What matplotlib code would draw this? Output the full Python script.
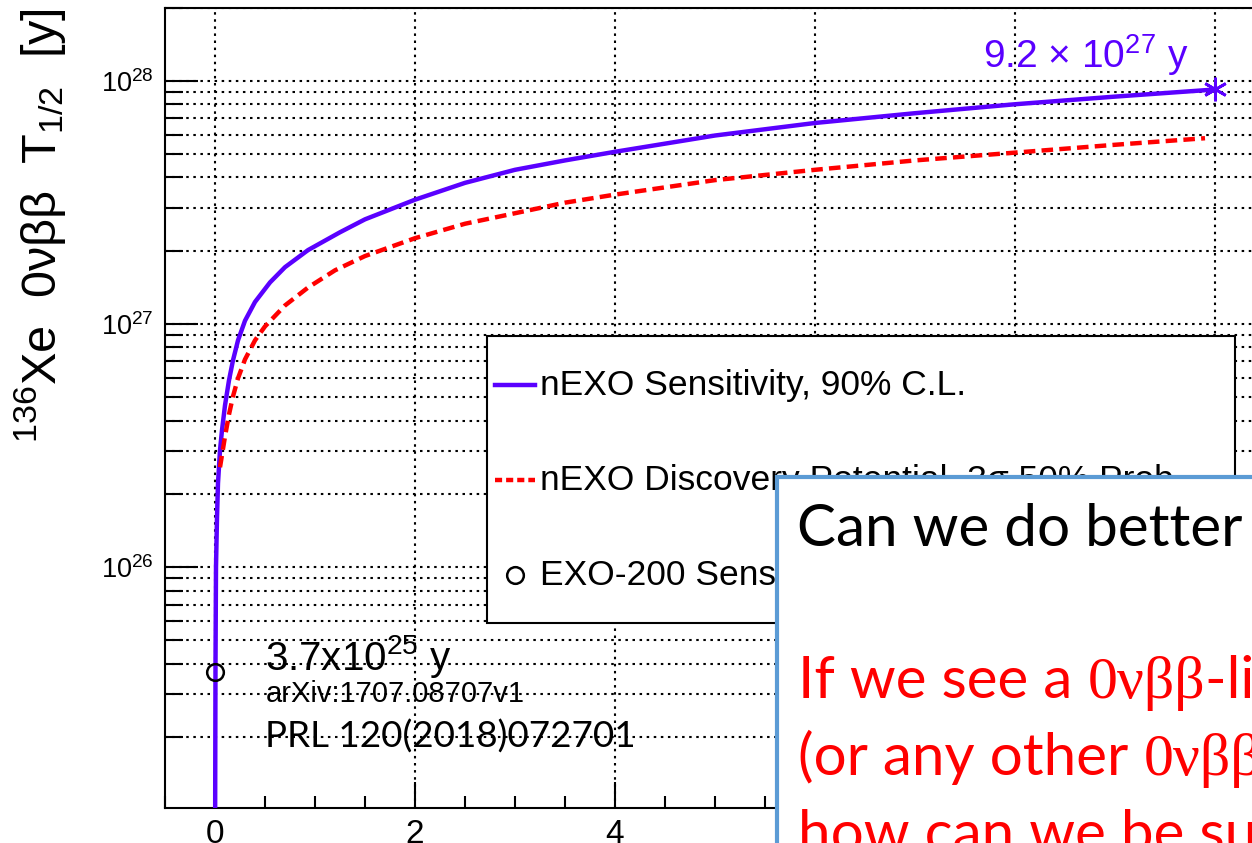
import matplotlib.pyplot as plt
from matplotlib.lines import Line2D
from matplotlib.patches import Rectangle
from matplotlib.ticker import MultipleLocator, LogLocator, NullFormatter

plt.rcParams['font.family'] = ['Liberation Sans', 'DejaVu Sans']
plt.rcParams['mathtext.fontset'] = 'custom'
plt.rcParams['mathtext.rm'] = 'Liberation Serif'
plt.rcParams['mathtext.default'] = 'regular'

# livetime [y] -> 136Xe 0vbb half-life [y]
sens_years = [0.0, 0.002, 0.005, 0.01, 0.02, 0.03, 0.05, 0.07, 0.10, 0.14, 0.18, 0.23,
              0.30, 0.40, 0.55, 0.70, 0.93, 1.25, 1.5, 2.0, 2.5, 3.0, 3.5, 4.0, 5.0,
              6.0, 7.0, 8.0, 9.0, 10.0]
sens_halflife = [5e24, 1.2e25, 4e25, 1.0e26, 1.6e26, 2.21e26, 3.02e26, 3.65e26, 4.62e26,
                 5.86e26, 7.08e26, 8.55e26, 1.03e27, 1.23e27, 1.48e27, 1.71e27, 2.01e27,
                 2.38e27, 2.69e27, 3.24e27, 3.8e27, 4.3e27, 4.7e27, 5.1e27, 5.95e27,
                 6.7e27, 7.35e27, 8.0e27, 8.6e27, 9.2e27]
disc_years = [0.05, 0.10, 0.14, 0.18, 0.23, 0.30, 0.40, 0.50, 0.70, 0.93, 1.2, 1.5, 2.0,
              2.5, 3.0, 3.5, 4.0, 5.0, 6.0, 7.0, 8.0, 9.0, 9.9]
disc_halflife = [2.57e26, 3.44e26, 4.24e26, 5.03e26, 5.97e26, 7.14e26, 8.55e26, 9.76e26,
                 1.19e27, 1.41e27, 1.66e27, 1.9e27, 2.25e27, 2.58e27, 2.85e27, 3.15e27,
                 3.4e27, 3.9e27, 4.3e27, 4.7e27, 5.06e27, 5.45e27, 5.8e27]
exo200_years = [0.0]
exo200_halflife = [3.7e25]
final_years = [10.0]
final_halflife = [9.2e27]

labels = ['nEXO Sensitivity, 90% C.L.',
          'nEXO Discovery Potential, 3σ 50% Prob.',
          'EXO-200 Sensitivity, 90% C.L.']

blue = '#5a00ff'
red = '#ff0000'

W, H = 1252, 843
fig = plt.figure(figsize=(W / 100, H / 100), dpi=100)
ax = fig.add_axes([165 / W, 35 / H, 1100 / W, 800.5 / H])


def px(x, y):
    return x / W, 1 - y / H


ax.plot(sens_years, sens_halflife, color=blue, lw=3.2, zorder=3)
ax.plot(disc_years, disc_halflife, color=red, lw=3.2, dashes=(2.6, 1.4), zorder=3)
ax.plot(exo200_years, exo200_halflife, 'o', ms=12, mfc='none', mec='black', mew=1.8, zorder=4)
ax.plot(final_years, final_halflife, marker=(6, 2, 0), ms=17, mec=blue, mew=2, ls='none', zorder=4)

ax.set_yscale('log')
ax.set_xlim(-0.5, 10.5)
ax.set_ylim(1.02e25, 2e28)
ax.xaxis.set_major_locator(MultipleLocator(2))
ax.xaxis.set_minor_locator(MultipleLocator(0.5))
ax.yaxis.set_minor_locator(LogLocator(subs=range(2, 10)))
ax.yaxis.set_minor_formatter(NullFormatter())

grid_style = dict(color='black', lw=1.5, linestyle=(0, (1.2, 2.2)))
ax.yaxis.grid(True, which='both', **grid_style)
ax.xaxis.grid(True, which='major', **grid_style)
ax.set_axisbelow(True)

ax.tick_params(axis='y', which='major', direction='in', length=24, width=1.5,
               labelsize=19.5, pad=8)
ax.tick_params(axis='y', which='minor', direction='in', length=13, width=1.5)
ax.tick_params(axis='x', which='major', direction='in', length=19, width=1.5,
               labelsize=24, pad=8)
ax.tick_params(axis='x', which='minor', direction='in', length=9, width=1.5)
for s in ax.spines.values():
    s.set_linewidth(1.5)

ax.set_ylabel(r'$^{136}$Xe  0νββ  T$_{1/2}$  [y]', fontsize=35)
ax.yaxis.set_label_coords(-0.088, 0.728)

# legend box drawn by hand, ROOT style
fig.add_artist(Rectangle(px(487, 623), (1235 - 487) / W, (623 - 336) / H,
                         transform=fig.transFigure, facecolor='white',
                         edgecolor='black', lw=1.5, zorder=5))
row_y = [385, 480, 575]
handles = [dict(color=blue, lw=3.2),
           dict(color=red, lw=3.2, dashes=(1.6, 0.9)),
           dict(marker='o', ms=12, mfc='none', mec='black', mew=1.8, ls='none')]
for y, label, style in zip(row_y, labels, handles):
    if style.get('ls') == 'none':
        xs, ys = [515 / W], [1 - y / H]
    else:
        xs, ys = [495 / W, 535 / W], [1 - y / H] * 2
    fig.add_artist(Line2D(xs, ys, transform=fig.transFigure, zorder=6, **style))
    fig.text(*px(540, y), label, fontsize=25.5, va='center', zorder=6)

fig.text(*px(983, 68), '9.2 × 10$^{27}$ y', color=blue, fontsize=28, va='baseline')
fig.text(*px(265, 670), '3.7x10$^{25}$ y', fontsize=29, va='baseline')
fig.text(*px(266, 702), 'arXiv:1707.08707v1', fontsize=21, va='baseline')
fig.text(*px(265, 748), 'PRL 120(2018)072701', family='Lato', fontsize=26.5, va='baseline')

# slide text box laid over the plot
fig.add_artist(Rectangle(px(777, 900), 0.5, (900 - 477) / H, transform=fig.transFigure,
                         facecolor='white', edgecolor='#5b9bd5', lw=3, zorder=10))
fig.text(*px(797, 546), 'Can we do better', family='Lato', fontsize=42,
         va='baseline', zorder=11)

lato = dict(family='Lato', fontsize=42)
serif = dict(family='Liberation Serif', fontsize=43)
red_lines = [[('If we see a ', lato), ('0νββ', serif), ('-like signal', lato)],
             [('(or any other ', lato), ('0νββ', serif), (' isotope),', lato)],
             [('how can we be sure it is real?', lato)]]
renderer = fig.canvas.get_renderer()
for i, pieces in enumerate(red_lines):
    x = 798
    for text, props in pieces:
        t = fig.text(*px(x, 698 + 77 * i), text, color=red, va='baseline', zorder=11, **props)
        x = t.get_window_extent(renderer).x1

fig.savefig('out.png', dpi=100)
